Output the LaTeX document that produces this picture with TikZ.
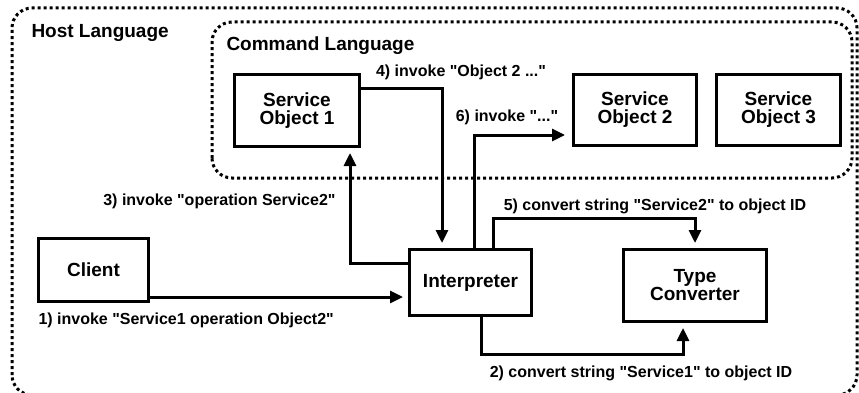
\documentclass[tikz,border=0pt]{standalone}
\usepackage{fontspec}
\setmainfont{Liberation Sans}
\usetikzlibrary{arrows.meta,positioning}

\newcommand{\qq}{\textquotedbl}

\begin{document}
\begin{tikzpicture}[x=1pt, y=1pt, ->, >={Triangle[length=13pt,width=12pt]}, shorten >=5pt, line width=3pt]

    \tikzstyle{every node}=[inner sep=0pt]
    \tikzstyle{block}=[draw, align=center, font=\fontsize{19}{18}\selectfont\bfseries]
    \tikzstyle{zone}=[draw, -, shorten >=0pt, dash pattern=on 3pt off 3pt, rounded corners=20pt]
    \tikzstyle{title}=[anchor=west, font=\fontsize{19}{19}\selectfont\bfseries]
    \tikzstyle{lbl}=[font=\fontsize{16}{16}\selectfont\bfseries]

    \useasboundingbox (0,0) rectangle (859,392);

    % the two language zones
    \draw[zone] (12,-3) rectangle (857,384);
    \draw[zone] (212,214) rectangle (852,370);
    \node[title] (host) at (30,359) {Host Language};
    \node[title] (cmd)  at (225,346) {Command Language};

    \node[block, minimum width=125pt, minimum height=72pt] (so1) at (297,281.5) {Service\\Object 1};
    \node[block, minimum width=123pt, minimum height=71pt] (so2) at (635,282) {Service\\Object 2};
    \node[block, minimum width=124pt, minimum height=71pt, right=17pt of so2] (so3) {Service\\Object 3};
    \node[block, minimum width=110pt, minimum height=63pt] (client) at (93.5,122) {Client};
    \node[block, minimum width=122pt, minimum height=66pt] (interp) at (470.5,109.5) {Interpreter};
    \node[block, minimum width=143pt, minimum height=72pt] (conv) at (695,106.5) {Type\\Converter};

    % 1)
    \path ([yshift=6pt]client.south east) coordinate (c1);
    \draw (c1) -- (c1 -| interp.west);
    \node[lbl, below right=8pt and 0pt of client.south west] (l1) {1) invoke \qq Service1 operation Object2\qq};
    % 2)
    \draw ([xshift=10.5pt]interp.south) -- ++(0,-37) -| ([xshift=-12pt]conv.south)
        node[lbl, pos=0.25, below=10pt, xshift=59pt] (l2) {2) convert string \qq Service1\qq{} to object ID};
    % 3)
    \draw ([yshift=-15pt]interp.north west) -| ([xshift=-11pt]so1.south east)
        node[lbl, pos=0.77, left=13pt] (l3) {3) invoke \qq operation Service2\qq};
    % 4)
    \draw ([yshift=-15pt]so1.north east) -| ([xshift=34pt]interp.north west)
        node[lbl, pos=0.5, above=7pt, xshift=19pt] (l4) {4) invoke \qq Object 2 ...\qq};
    % 5)
    \draw ([xshift=22.5pt]interp.north) -- ++(0,30) -| (conv.north)
        node[lbl, pos=0.25, above=2.5pt, xshift=61pt] (l5) {5) convert string \qq Service2\qq{} to object ID};
    % 6)
    \draw ([xshift=3.5pt]interp.north) |- ([xshift=-2pt, yshift=-25pt]so2.west)
        node[lbl, pos=0.75, above=9pt, xshift=-15pt] (l6) {6) invoke \qq ...\qq};

\end{tikzpicture}
\end{document}
